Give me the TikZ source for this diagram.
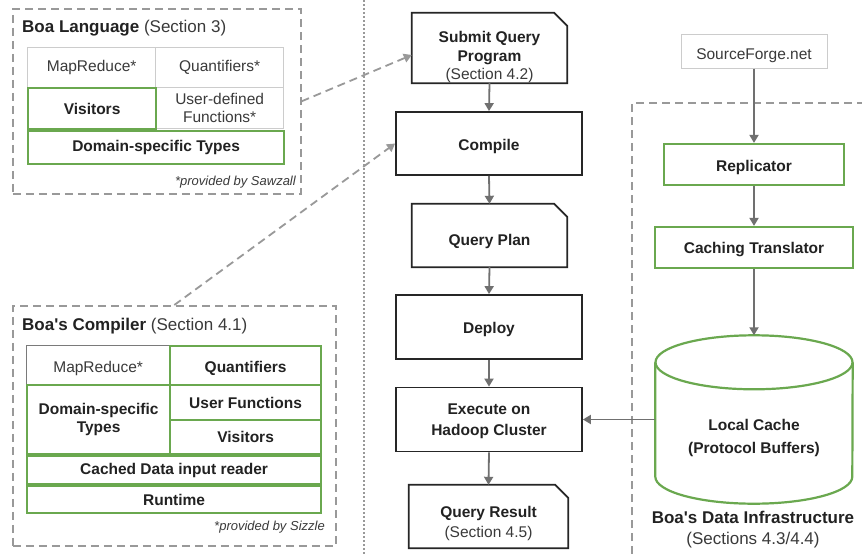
\documentclass[tikz,border=0pt]{standalone}
\usepackage{fontspec}
\setmainfont{Liberation Sans}
\usetikzlibrary{arrows.meta}
\definecolor{grn}{HTML}{6AA84F}
\definecolor{dgray}{HTML}{999999}
\definecolor{agray}{HTML}{707070}
\definecolor{lgray}{HTML}{CCCCCC}
\definecolor{mgray}{HTML}{7A7A7A}
\definecolor{txt}{HTML}{222222}
\definecolor{stxt}{HTML}{3A3A3A}
\newcommand\docshape[1]{\draw[docline] (#1.south west) -- (#1.north west) -- ([xshift=-13pt]#1.north east) -- ([yshift=-13pt]#1.north east) -- (#1.south east) -- cycle;}
\newcommand\dn[1]{\mbox{}\\[#1]}
\begin{document}
\begin{tikzpicture}[x=1pt,y=-1pt,
  font=\fontsize{15.5}{18.5}\selectfont, text=txt,
  tdown/.style={text height=#1, text depth=3.3pt},
  cell/.style={anchor=north west, inner sep=0pt, align=center, line width=1.3pt, text=stxt},
  pcell/.style={cell, draw=lgray},
  mcell/.style={cell, draw=mgray},
  gcell/.style={cell, draw=grn, line width=2.2pt, text=txt, font=\fontsize{15.5}{18.5}\selectfont\bfseries},
  group/.style={anchor=north west, inner sep=0pt, draw=dgray, line width=1.6pt, dash pattern=on 8pt off 5pt},
  title/.style={anchor=west, inner sep=0pt, font=\fontsize{17}{20}\selectfont},
  foot/.style={anchor=east, inner sep=0pt, text=stxt, font=\fontsize{13}{15}\selectfont\itshape},
  box/.style={draw=black!85, line width=1.8pt, inner sep=0pt, align=center, font=\fontsize{15.5}{18.5}\selectfont\bfseries},
  docbox/.style={inner sep=0pt, align=center, font=\fontsize{15.5}{18.5}\selectfont\bfseries},
  docline/.style={draw=black!85, line width=1.8pt, line join=miter},
  gbox/.style={draw=grn, line width=2.2pt, inner sep=0pt, align=center, font=\fontsize{15.5}{18.5}\selectfont\bfseries},
  conn/.style={draw=agray, line width=1.8pt, -{Triangle[width=9pt,length=8pt]}},
  dconn/.style={draw=dgray, line width=1.8pt, dash pattern=on 8pt off 5pt, -{Triangle[width=9pt,length=8pt]}},
  cyl/.style={draw=grn, line width=2.2pt}
]
\fill[white] (0,0) rectangle (862,554);
\useasboundingbox (0,0) rectangle (862,554);

% separators
\draw[dgray, line width=1.4pt, dash pattern=on 1.5pt off 2.5pt] (364,0) -- (364,554);
\draw[group] (632,554) -- (632,103) -- (862,103);

% Boa Language
\node[group, minimum width=288pt, minimum height=185pt] (lang) at (12,8) {};
\node[title] (langt) at (22,28.5) {\textbf{Boa Language} {\color{stxt}(Section 3)}};
\node[pcell, minimum width=128pt, minimum height=40pt] (lmr) at (27,47) {MapReduce*};
\node[pcell, minimum width=128pt, minimum height=40pt] (lq) at (155,47) {Quantifiers*};
\node[pcell, minimum width=128pt, minimum height=41pt] (luf) at (155,87) {User-defined\\Functions*};
\node[gcell, minimum width=128pt, minimum height=41pt] (lvis) at (27,87) {Visitors};
\node[gcell, minimum width=256pt, minimum height=33pt] (ldst) at (27,130) {Domain-specific Types};
\node[foot] (langf) at (296,182) {*provided by Sawzall};

% Boa's Compiler
\node[group, minimum width=323pt, minimum height=240pt] (comp) at (12,305) {};
\node[title] (compt) at (22,326) {\textbf{Boa\textquotesingle s Compiler} {\color{stxt}(Section 4.1)}};
\node[mcell, tdown=17pt, minimum width=143pt, minimum height=39pt] (cmr) at (26,345) {MapReduce*};
\node[gcell, tdown=17pt, minimum width=151pt, minimum height=39pt] (cq) at (169,345) {Quantifiers};
\node[gcell, minimum width=143pt, minimum height=69pt] (cdst) at (26,384) {Domain-specific\\Types};
\node[gcell, minimum width=151pt, minimum height=35pt] (cuf) at (169,384) {User Functions};
\node[gcell, minimum width=151pt, minimum height=34pt] (cvis) at (169,419) {Visitors};
\node[gcell, minimum width=294pt, minimum height=28pt] (ccd) at (26,455) {Cached Data input reader};
\node[gcell, minimum width=294pt, minimum height=27pt] (crt) at (26,485) {Runtime};
\node[foot] (compf) at (325,527) {*provided by Sizzle};

% center column
\node[docbox, minimum width=155pt, minimum height=70pt] (submit) at (489.5,48) {\dn{10.9pt}Submit Query\\Program\\\mdseries\color{stxt}(Section 4.2)};
\docshape{submit}
\node[box, tdown=16.5pt, minimum width=186pt, minimum height=63pt] (compile) at (489,143.5) {Compile};
\node[docbox, tdown=23.3pt, minimum width=155pt, minimum height=63pt] (qplan) at (489.5,235.5) {Query Plan};
\docshape{qplan}
\node[box, tdown=16pt, minimum width=186pt, minimum height=64pt] (deploy) at (489,327) {Deploy};
\node[box, minimum width=186pt, minimum height=64pt] (exec) at (489,419.5) {\dn{-4.1pt}Execute on\\[3pt]Hadoop Cluster};
\node[docbox, minimum width=159pt, minimum height=63pt] (qres) at (488.5,516.5) {\dn{6.9pt}Query Result\\[1.5pt]\mdseries\color{stxt}(Section 4.5)};
\docshape{qres}

\draw[conn] (submit.south) -- (compile.north);
\draw[conn] (compile.south) -- (qplan.north);
\draw[conn] (qplan.south) -- (deploy.north);
\draw[conn] (deploy.south) -- (exec.north);
\draw[conn] (exec.south) -- (qres.north);

% right column
\node[draw=lgray, line width=1pt, inner sep=0pt, tdown=19.5pt, minimum width=146pt, minimum height=34pt, text=stxt] (sf) at (754,51) {SourceForge.net};
\node[gbox, tdown=17pt, minimum width=180pt, minimum height=41pt] (rep) at (754,164.5) {Replicator};
\node[gbox, tdown=15.5pt, minimum width=198pt, minimum height=41pt] (ct) at (754,247.5) {Caching Translator};
\node[inner sep=0pt, minimum width=197pt, minimum height=168pt, align=center, font=\fontsize{15.5}{18.5}\selectfont\bfseries] (cache) at (754,419.5) {\dn{29.5pt}Local Cache\\[4pt](Protocol Buffers)};
\draw[cyl] ([yshift=-27pt]cache.north) ellipse [x radius=98.5pt, y radius=27pt];
\draw[cyl] ([yshift=-27pt]cache.north west) -- ([yshift=27pt]cache.south west)
  arc[start angle=180, end angle=360, x radius=98.5pt, y radius=27pt]
  -- ([yshift=-27pt]cache.north east);
\node[inner sep=0pt, align=center, font=\fontsize{17}{20}\selectfont] (infra) at (753,529.5) {\textbf{Boa\textquotesingle s Data Infrastructure}\\[1pt]{\color{stxt}(Sections 4.3/4.4)}};

\draw[conn] (sf.south) -- (rep.north);
\draw[conn] (rep.south) -- (ct.north);
\draw[conn] (ct.south) -- (cache.north);
\draw[conn] (cache.west) -- (exec.east);

% dashed links
\draw[dconn] (lang.east) -- ([yshift=-7pt]submit.west);
\draw[dconn] (comp.north) -- (compile.west);
\end{tikzpicture}
\end{document}
